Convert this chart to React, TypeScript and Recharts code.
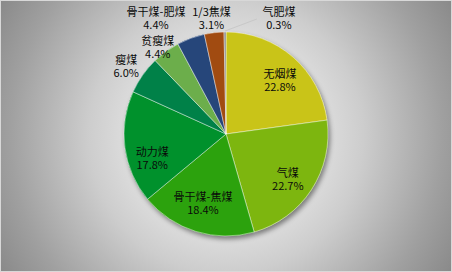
import React from 'react';
import { PieChart, Pie, Cell } from 'recharts';

const names = ['无烟煤', '气煤', '骨干煤-焦煤', '动力煤', '瘦煤', '贫瘦煤', '骨干煤-肥煤', '1/3焦煤', '气肥煤'];
const shares = [22.8, 22.7, 18.4, 17.8, 6.0, 4.4, 4.4, 3.1, 0.3];
const colors = ['#c9c418', '#7db60f', '#2ca20d', '#00912c', '#008148', '#6cae4b', '#26467a', '#a14b11', '#858585'];

// label nudges from the default polar spot (inside or just outside the rim)
const labelNudge: [number, number][] = [
  [7, 0], [2, 6], [-2, 1], [-3, 14], [-5, -1], [0, 7], [-30, -7], [-1, -1], [54, 0]
];

const data = names.map((name, i) => ({ name, value: shares[i] }));

const RADIAN = Math.PI / 180;
const FONT = '"Noto Sans CJK SC", "Noto Sans", sans-serif';

function renderLabel(props: any) {
  const { cx, cy, midAngle, outerRadius, index, value } = props;
  const small = value < 10;
  const r = small ? outerRadius + 14 : outerRadius * 0.7;
  const cos = Math.cos(-midAngle * RADIAN);
  const sin = Math.sin(-midAngle * RADIAN);
  const x = cx + r * cos + labelNudge[index][0];
  const y = cy + r * sin + labelNudge[index][1];
  const tiny = value < 1;
  return (
    <g key={`lbl-${index}`}>
      {tiny && (
        <path
          d={`M${cx + (outerRadius + 1) * cos},${cy + (outerRadius + 1) * sin}L${x - 22},${y + 1}`}
          stroke="#c8c8c8"
          strokeWidth={1}
          fill="none"
        />
      )}
      <text x={x} y={y - 2} textAnchor="middle" fontSize={11} fontFamily={FONT} fill="#0a0a0a">
        <tspan x={x}>{names[index]}</tspan>
        <tspan x={x} dy={13}>{value.toFixed(1)}%</tspan>
      </text>
    </g>
  );
}

export default function App() {
  return (
    <div
      style={{
        position: 'absolute',
        left: 0,
        top: 0,
        width: 452,
        height: 272,
        background:
          'radial-gradient(circle farthest-corner at 50% 50%, #e8e8e8 0%, #dadada 40%, #cdcdcd 52%, #a0a0a0 82%, #898989 100%)',
        boxShadow: 'inset 0 0 0 1px #d8d8d8'
      }}
    >
      <svg width={0} height={0} style={{ position: 'absolute' }}>
        <defs>
          <filter id="pieShadow" x="-20%" y="-20%" width="140%" height="140%">
            <feDropShadow dx={2} dy={3} stdDeviation={2.5} floodColor="#000" floodOpacity={0.45} />
          </filter>
        </defs>
      </svg>
      <PieChart width={452} height={272} margin={{ top: 0, right: 0, bottom: 0, left: 0 }}>
        <Pie
          data={data}
          dataKey="value"
          nameKey="name"
          cx={226}
          cy={134}
          outerRadius={102}
          startAngle={90}
          endAngle={-270}
          stroke="none"
          isAnimationActive={false}
          label={false}
          labelLine={false}
        >
          {data.map((d, i) => (
            <Cell key={`s-${i}`} fill={colors[i]} filter="url(#pieShadow)" />
          ))}
        </Pie>
        <Pie
          data={data}
          dataKey="value"
          nameKey="name"
          cx={226}
          cy={134}
          outerRadius={102}
          startAngle={90}
          endAngle={-270}
          stroke="rgba(255,255,255,0.45)"
          strokeWidth={1}
          isAnimationActive={false}
          label={renderLabel}
          labelLine={false}
        >
          {data.map((d, i) => (
            <Cell key={`c-${i}`} fill={colors[i]} />
          ))}
        </Pie>
      </PieChart>
    </div>
  );
}
